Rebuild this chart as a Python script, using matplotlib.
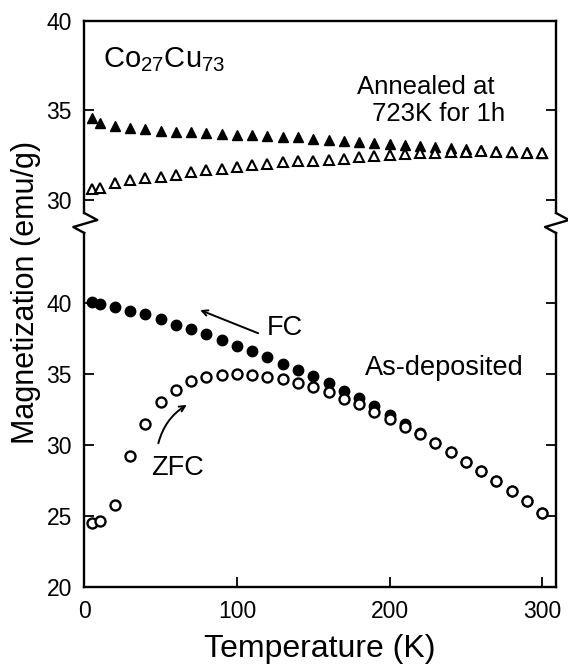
import numpy as np
import matplotlib
matplotlib.use("Agg")
import matplotlib.pyplot as plt
from matplotlib.lines import Line2D

plt.rcParams['font.family'] = ['Liberation Sans', 'DejaVu Sans']
plt.rcParams['mathtext.fontset'] = 'custom'
plt.rcParams['mathtext.rm'] = 'Liberation Sans'
plt.rcParams['mathtext.it'] = 'Liberation Sans'

# temperature (K)
T = [5, 10, 20, 30, 40, 50, 60, 70, 80, 90, 100, 110, 120, 130, 140, 150,
     160, 170, 180, 190, 200, 210, 220, 230, 240, 250, 260, 270, 280, 290, 300]

# annealed at 723K for 1h
ann_fc = [34.6, 34.3, 34.13, 34.0, 33.95, 33.87, 33.82, 33.78, 33.73, 33.7, 33.65,
          33.62, 33.58, 33.54, 33.5, 33.42, 33.36, 33.3, 33.25, 33.2, 33.15, 33.1,
          33.02, 32.96, 32.9, 32.84, 32.78, 32.72, 32.7, 32.66, 32.6]
ann_zfc = [30.6, 30.65, 30.97, 31.12, 31.21, 31.3, 31.4, 31.55, 31.65, 31.75, 31.85,
           31.93, 32.02, 32.1, 32.16, 32.2, 32.25, 32.3, 32.38, 32.44, 32.5, 32.55,
           32.6, 32.64, 32.67, 32.7, 32.72, 32.7, 32.7, 32.65, 32.6]

# as-deposited
dep_fc = [40.05, 39.9, 39.74, 39.46, 39.25, 38.85, 38.47, 38.15, 37.82, 37.41, 36.99,
          36.62, 36.17, 35.7, 35.28, 34.85, 34.34, 33.8, 33.33, 32.75, 32.1, 31.45,
          30.85, 30.15, 29.5, 28.83, 28.17, 27.49, 26.76, 26.05, 25.2]
dep_zfc = [24.53, 24.65, 25.77, 29.25, 31.5, 33.05, 33.87, 34.5, 34.79, 34.93, 34.98,
           34.93, 34.81, 34.67, 34.39, 34.08, 33.7, 33.24, 32.89, 32.35, 31.81, 31.29,
           30.75, 30.12, 29.49, 28.82, 28.17, 27.49, 26.76, 26.03, 25.19]

top_ticks = [30, 35, 40]
bot_ticks = [20, 25, 30, 35, 40]
x_ticks = [0, 100, 200, 300]

W, H = 568, 664
fig = plt.figure(figsize=(W / 100, H / 100), dpi=100)

# axes frame in pixels
xl, xr = 84.3, 556
yt, yj, yb = 21, 223, 587
ax_top = fig.add_axes([xl / W, 1 - yj / H, (xr - xl) / W, (yj - yt) / H])
ax_bot = fig.add_axes([xl / W, 1 - yb / H, (xr - xl) / W, (yb - yj) / H])

xlim = (0, 309)
top_ylim = (40 - (yj - yt) / 17.9, 40)
bot_ylim = (20, 40 + (303 - yj) / 14.2)

ax_top.plot(T, ann_fc, '^', color='black', ms=7.5, ls='none', clip_on=False)
ax_top.plot(T, ann_zfc, '^', mfc='white', mec='black', mew=1.5, ms=7.2, ls='none', clip_on=False)
ax_bot.plot(T, dep_fc, 'o', color='black', ms=7.5, ls='none', clip_on=False)
ax_bot.plot(T, dep_zfc, 'o', mfc='white', mec='black', mew=1.7, ms=7.2, ls='none', clip_on=False)

for ax, ylim, yt_ in [(ax_top, top_ylim, top_ticks), (ax_bot, bot_ylim, bot_ticks)]:
    ax.set_xlim(*xlim)
    ax.set_ylim(*ylim)
    ax.set_yticks(yt_)
    ax.set_xticks(x_ticks)
    ax.tick_params(direction='in', length=7, width=1.3, labelsize=16.5, pad=9,
                   right=True)
    for s in ax.spines.values():
        s.set_linewidth(1.7)

ax_top.spines['bottom'].set_visible(False)
ax_top.tick_params(bottom=False, labelbottom=False)
ax_bot.spines['top'].set_visible(False)

# leave room for the zigzag breaks
ax_top.spines['left'].set_bounds(40 - (213 - yt) / 17.9, 40)
ax_top.spines['right'].set_bounds(40 - (213 - yt) / 17.9, 40)
ax_bot.spines['left'].set_bounds(20, 40 + (303 - 233) / 14.2)
ax_bot.spines['right'].set_bounds(20, 40 + (303 - 233) / 14.2)

for x0 in (xl, xr):
    px = [x0, x0 + 13, x0 - 11, x0]
    py = [213, 220, 227, 233]
    fig.add_artist(Line2D([p / W for p in px], [1 - p / H for p in py],
                          color='black', lw=1.7, transform=fig.transFigure))

ax_bot.set_xlabel('Temperature (K)', fontsize=23, labelpad=8)
fig.text(0.045, 1 - 292 / H, 'Magnetization (emu/g)', rotation=90,
         fontsize=22, ha='center', va='center')

ax_top.text(12, 37.43, r'Co$_{27}$Cu$_{73}$', fontsize=21, va='baseline')
ax_top.text(178.6, 35.92, 'Annealed at', fontsize=18.5, va='baseline')
ax_top.text(188.2, 34.41, '723K for 1h', fontsize=18.5, va='baseline')

ax_bot.text(119.4, 37.75, 'FC', fontsize=19.5, va='baseline')
ax_bot.text(183.8, 34.93, 'As-deposited', fontsize=19.5, va='baseline')
ax_bot.text(43.5, 27.89, 'ZFC', fontsize=19.5, va='baseline')

ax_bot.annotate('', xy=(75.9, 39.5), xytext=(113.9, 37.87),
                arrowprops=dict(arrowstyle='->', color='black', lw=1.4,
                                shrinkA=0, shrinkB=0))
ax_bot.annotate('', xy=(67.1, 32.82), xytext=(48.5, 30.12),
                arrowprops=dict(arrowstyle='->', color='black', lw=1.4,
                                shrinkA=0, shrinkB=0,
                                connectionstyle='arc3,rad=-0.2'))

fig.savefig('out.png', dpi=100)
